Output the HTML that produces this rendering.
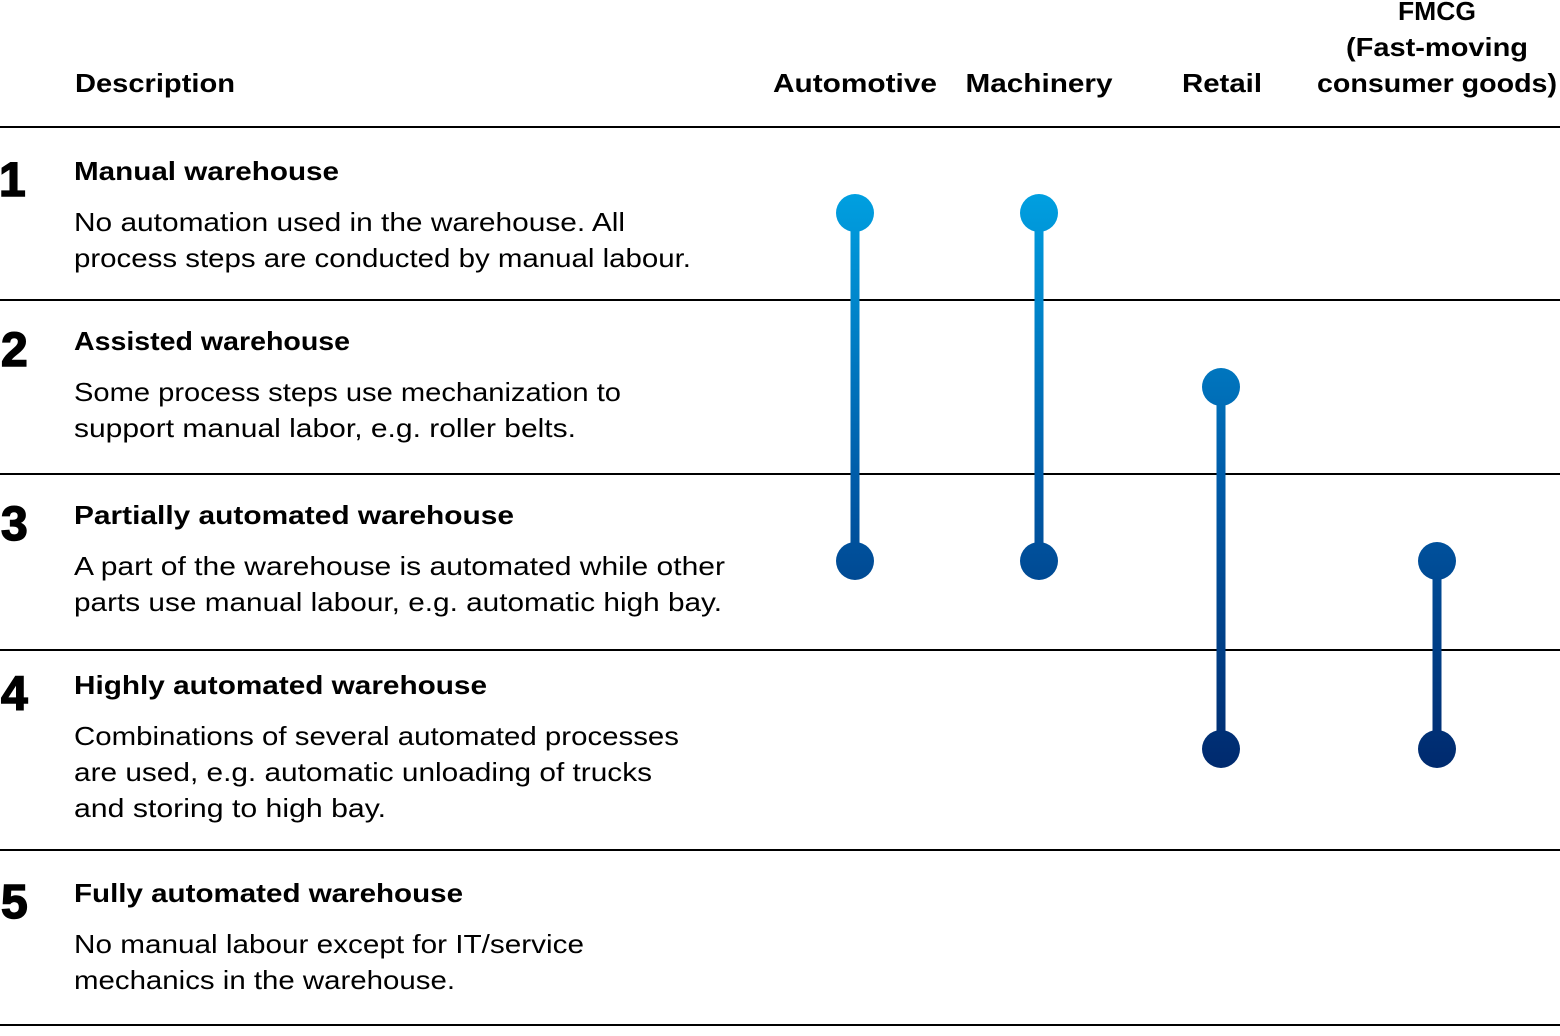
<!DOCTYPE html>
<html><head><meta charset="utf-8"><style>html,body{margin:0;padding:0;background:#fff}svg{display:block}</style></head>
<body>
<svg width="1560" height="1036" viewBox="0 0 1560 1036" xmlns="http://www.w3.org/2000/svg" font-family="Liberation Sans, DejaVu Sans, sans-serif">
<defs>
<linearGradient id="g" gradientUnits="userSpaceOnUse" x1="0" y1="195" x2="0" y2="768">
<stop offset="0" stop-color="#009fe0"/><stop offset="0.5" stop-color="#005ba8"/><stop offset="1" stop-color="#002a6e"/>
</linearGradient>
</defs>
<g fill="#000" font-weight="bold" font-size="26">
<text x="75" y="92" textLength="160" lengthAdjust="spacingAndGlyphs">Description</text>
<text x="855" y="92" text-anchor="middle" textLength="164" lengthAdjust="spacingAndGlyphs">Automotive</text>
<text x="1039" y="92" text-anchor="middle" textLength="147" lengthAdjust="spacingAndGlyphs">Machinery</text>
<text x="1222" y="92" text-anchor="middle" textLength="80" lengthAdjust="spacingAndGlyphs">Retail</text>
<text x="1437" y="20" text-anchor="middle" textLength="78" lengthAdjust="spacingAndGlyphs">FMCG</text>
<text x="1437" y="56" text-anchor="middle" textLength="182" lengthAdjust="spacingAndGlyphs">(Fast-moving</text>
<text x="1437" y="92" text-anchor="middle" textLength="240" lengthAdjust="spacingAndGlyphs">consumer goods)</text>
</g>
<g stroke="#000" stroke-width="2">
<line x1="0" y1="127" x2="1560" y2="127"/><line x1="0" y1="300" x2="1560" y2="300"/>
<line x1="0" y1="474" x2="1560" y2="474"/><line x1="0" y1="650" x2="1560" y2="650"/>
<line x1="0" y1="850" x2="1560" y2="850"/><line x1="0" y1="1025" x2="1560" y2="1025"/>
</g>
<g font-weight="bold" font-size="48" fill="#000" stroke="#000" stroke-width="1.5">
<text x="-1" y="196">1</text><text x="1" y="366">2</text><text x="1" y="540">3</text><text x="1" y="710">4</text><text x="1" y="918">5</text>
</g>
<g font-weight="bold" font-size="26" fill="#000">
<text x="74" y="180" textLength="265" lengthAdjust="spacingAndGlyphs">Manual warehouse</text>
<text x="74" y="350" textLength="276" lengthAdjust="spacingAndGlyphs">Assisted warehouse</text>
<text x="74" y="524" textLength="440" lengthAdjust="spacingAndGlyphs">Partially automated warehouse</text>
<text x="74" y="694" textLength="413" lengthAdjust="spacingAndGlyphs">Highly automated warehouse</text>
<text x="74" y="902" textLength="389" lengthAdjust="spacingAndGlyphs">Fully automated warehouse</text>
</g>
<g font-size="26" fill="#000">
<text x="74" y="231" textLength="551" lengthAdjust="spacingAndGlyphs">No automation used in the warehouse. All</text>
<text x="74" y="267" textLength="617" lengthAdjust="spacingAndGlyphs">process steps are conducted by manual labour.</text>
<text x="74" y="401" textLength="547" lengthAdjust="spacingAndGlyphs">Some process steps use mechanization to</text>
<text x="74" y="437" textLength="502" lengthAdjust="spacingAndGlyphs">support manual labor, e.g. roller belts.</text>
<text x="74" y="575" textLength="651" lengthAdjust="spacingAndGlyphs">A part of the warehouse is automated while other</text>
<text x="74" y="611" textLength="648" lengthAdjust="spacingAndGlyphs">parts use manual labour, e.g. automatic high bay.</text>
<text x="74" y="745" textLength="605" lengthAdjust="spacingAndGlyphs">Combinations of several automated processes</text>
<text x="74" y="781" textLength="578" lengthAdjust="spacingAndGlyphs">are used, e.g. automatic unloading of trucks</text>
<text x="74" y="817" textLength="312" lengthAdjust="spacingAndGlyphs">and storing to high bay.</text>
<text x="74" y="953" textLength="510" lengthAdjust="spacingAndGlyphs">No manual labour except for IT/service</text>
<text x="74" y="989" textLength="381" lengthAdjust="spacingAndGlyphs">mechanics in the warehouse.</text>
</g>
<g fill="url(#g)">
<rect x="850.5" y="213" width="9" height="348"/><circle cx="855" cy="213" r="19"/><circle cx="855" cy="561" r="19"/>
<rect x="1034.5" y="213" width="9" height="348"/><circle cx="1039" cy="213" r="19"/><circle cx="1039" cy="561" r="19"/>
<rect x="1216.5" y="387" width="9" height="362"/><circle cx="1221" cy="387" r="19"/><circle cx="1221" cy="749" r="19"/>
<rect x="1432.5" y="561" width="9" height="188"/><circle cx="1437" cy="561" r="19"/><circle cx="1437" cy="749" r="19"/>
</g>
</svg>
</body></html>
